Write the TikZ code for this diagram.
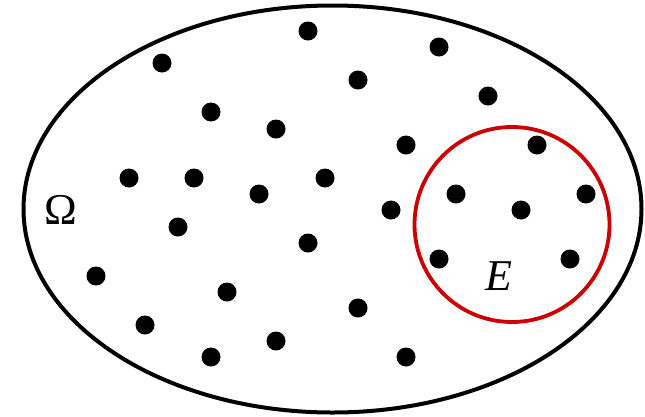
\documentclass[tikz,border=0pt]{standalone}
\usepackage{fontspec}
\setmainfont{Liberation Serif}
\usetikzlibrary{shapes.geometric}
\definecolor{setred}{RGB}{204,0,0}
\tikzset{
  pt/.style={circle,fill=black,inner sep=0pt,minimum size=19pt},
  omegaset/.style={ellipse,draw=black,line width=4pt,inner sep=0pt,minimum width=618pt,minimum height=407pt},
  eventset/.style={circle,draw=setred,line width=3.8pt,inner sep=0pt,minimum size=195pt},
  lbl/.style={inner sep=0pt,font=\fontsize{44}{44}\selectfont}
}
\begin{document}
\begin{tikzpicture}[x=1pt,y=-1pt]
\useasboundingbox (0,0) rectangle (645,416);
\node[omegaset] (omega) at (332.5,209) {};
\node[eventset] (E) at (512,224.5) {};
\node[lbl] (lo) at (61,210) {Ω};
\node[lbl] (le) at (499,276) {\textit{E}};
\foreach \x/\y [count=\i] in {308/31,162/63,211/112,276/129,129/178,194/178,259/194,325/178,
  439/47,358/80,488/96,406/145,537/145,456/194,586/194,391/210,521/210,
  178/227,308/243,96/276,227/292,145/325,276/341,211/357,
  439/259,570/259,358/308,406/357}
  \node[pt] (p\i) at (\x,\y) {};
\end{tikzpicture}
\end{document}
